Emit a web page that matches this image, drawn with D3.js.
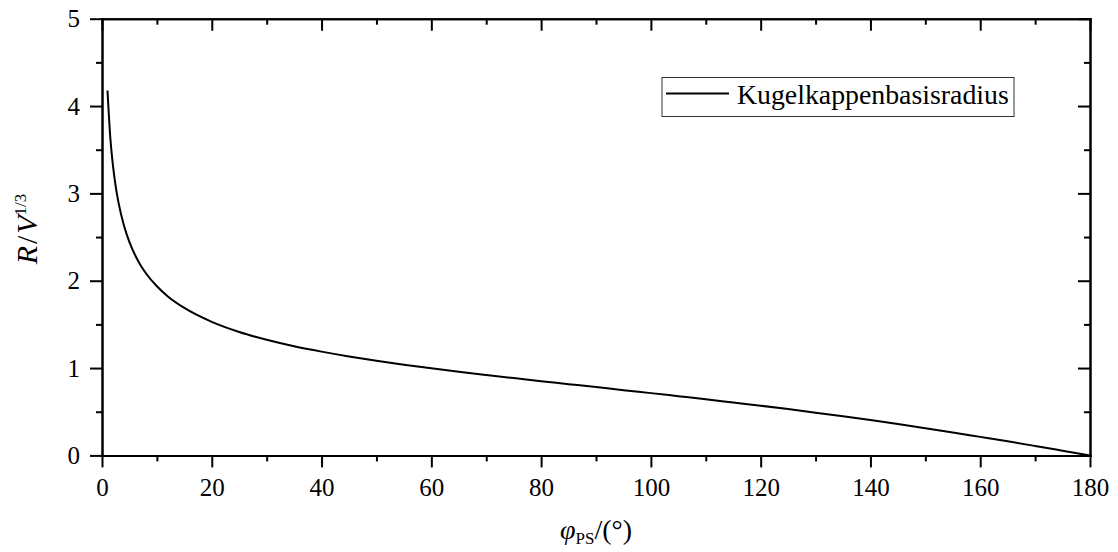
<!DOCTYPE html>
<html>
<head>
<meta charset="utf-8">
<script src="https://cdn.jsdelivr.net/npm/d3@7"></script>
<style>
  body { margin: 0; background: #fff; }
  svg { display: block; }
  .axis path, .axis line { stroke: #000; stroke-width: 2px; }
  .axis text { font-family: "Liberation Serif", "Times New Roman", serif; font-size: 25px; fill: #000; }
  .title { font-family: "Liberation Serif", "Times New Roman", serif; fill: #000; }
</style>
</head>
<body>
<svg width="1118" height="552"></svg>
<script>
// contact angle in degrees
var angles = [1, 1.5, 2, 2.5, 3, 4, 5, 6, 7, 8, 10, 12, 15, 20, 25, 30, 35, 40, 45, 50, 55, 60, 65, 70, 75, 80, 85, 90, 95, 100, 105, 110, 115, 120, 125, 130, 135, 140, 145, 150, 155, 160, 165, 170, 175, 180];
// base radius of the spherical cap, R / V^(1/3)
var radius = [4.178, 3.650, 3.317, 3.078, 2.897, 2.631, 2.442, 2.298, 2.181, 2.086, 1.936, 1.820, 1.688, 1.529, 1.413, 1.324, 1.250, 1.188, 1.133, 1.084, 1.039, 0.997, 0.958, 0.921, 0.885, 0.850, 0.816, 0.782, 0.747, 0.713, 0.678, 0.643, 0.606, 0.569, 0.530, 0.489, 0.447, 0.404, 0.359, 0.312, 0.263, 0.212, 0.161, 0.108, 0.054, 0.0];
var xTicks = [0, 20, 40, 60, 80, 100, 120, 140, 160, 180];
var yTicks = [0, 1, 2, 3, 4, 5];
var seriesName = "Kugelkappenbasisradius";

var svg = d3.select("svg");
var margin = {top: 18.7, right: 28, bottom: 96.6, left: 102};
var width = 1118 - margin.left - margin.right,
    height = 552 - margin.top - margin.bottom;

var x = d3.scaleLinear().domain([0, 180]).range([0, width]);
var y = d3.scaleLinear().domain([0, 5]).range([height, 0]);

var data = angles.map(function(a, i) { return {a: a, r: radius[i]}; });

var g = svg.append("g").attr("transform", "translate(" + margin.left + "," + margin.top + ")");

var xMinor = d3.range(10, 180, 20);
var yMinor = d3.range(0.5, 5, 1);

// bottom axis (ticks outward)
g.append("g").attr("class", "axis")
    .attr("transform", "translate(0," + height + ")")
    .call(d3.axisBottom(x).tickValues(xTicks).tickSize(12).tickPadding(11).tickSizeOuter(0).tickFormat(d3.format("d")));
g.append("g").attr("class", "axis")
    .attr("transform", "translate(0," + height + ")")
    .call(d3.axisBottom(x).tickValues(xMinor).tickSize(6).tickFormat("").tickSizeOuter(0));

// top axis (ticks inward)
g.append("g").attr("class", "axis")
    .call(d3.axisBottom(x).tickValues(xTicks).tickSize(12).tickFormat("").tickSizeOuter(0));
g.append("g").attr("class", "axis")
    .call(d3.axisBottom(x).tickValues(xMinor).tickSize(6).tickFormat("").tickSizeOuter(0));

// left axis (ticks outward)
g.append("g").attr("class", "axis")
    .call(d3.axisLeft(y).tickValues(yTicks).tickSize(12).tickPadding(10).tickSizeOuter(0).tickFormat(d3.format("d")));
g.append("g").attr("class", "axis")
    .call(d3.axisLeft(y).tickValues(yMinor).tickSize(6).tickFormat("").tickSizeOuter(0));

// right axis (ticks inward)
g.append("g").attr("class", "axis")
    .attr("transform", "translate(" + width + ",0)")
    .call(d3.axisLeft(y).tickValues(yTicks).tickSize(12).tickFormat("").tickSizeOuter(0));
g.append("g").attr("class", "axis")
    .attr("transform", "translate(" + width + ",0)")
    .call(d3.axisLeft(y).tickValues(yMinor).tickSize(6).tickFormat("").tickSizeOuter(0));

g.selectAll(".axis path").attr("stroke-linecap", "square");

// curve
var line = d3.line()
    .x(function(d) { return x(d.a); })
    .y(function(d) { return y(d.r); })
    .curve(d3.curveMonotoneX);

g.append("path")
    .datum(data)
    .attr("fill", "none")
    .attr("stroke", "#000")
    .attr("stroke-width", 2)
    .attr("d", line);

// axis titles
var xt = svg.append("text")
    .attr("class", "title")
    .attr("x", margin.left + width / 2)
    .attr("y", 539)
    .attr("text-anchor", "middle")
    .style("font-size", "28px");
xt.append("tspan").style("font-style", "italic").text("φ");
xt.append("tspan").attr("dy", 5).style("font-size", "17px").text("PS");
xt.append("tspan").attr("dy", -5).text("/(°)");

var yt = svg.append("text")
    .attr("class", "title")
    .attr("transform", "translate(37,229) rotate(-90)")
    .attr("text-anchor", "middle")
    .style("font-size", "30px");
yt.append("tspan").style("font-style", "italic").text("R");
yt.append("tspan").attr("dx", 2).text("/");
yt.append("tspan").attr("dx", 2).style("font-style", "italic").text("V");
yt.append("tspan").attr("dy", -11).style("font-size", "17px").text("1/3");

// legend
var lg = svg.append("g");
lg.append("rect")
    .attr("x", 662).attr("y", 77.5)
    .attr("width", 352).attr("height", 39)
    .attr("fill", "#fff")
    .attr("stroke", "#333")
    .attr("stroke-width", 1);
lg.append("line")
    .attr("x1", 666).attr("x2", 729)
    .attr("y1", 93.5).attr("y2", 93.5)
    .attr("stroke", "#000").attr("stroke-width", 2);
lg.append("text")
    .attr("class", "title")
    .attr("x", 737).attr("y", 104)
    .style("font-size", "27.8px")
    .text(seriesName);
</script>
</body>
</html>
